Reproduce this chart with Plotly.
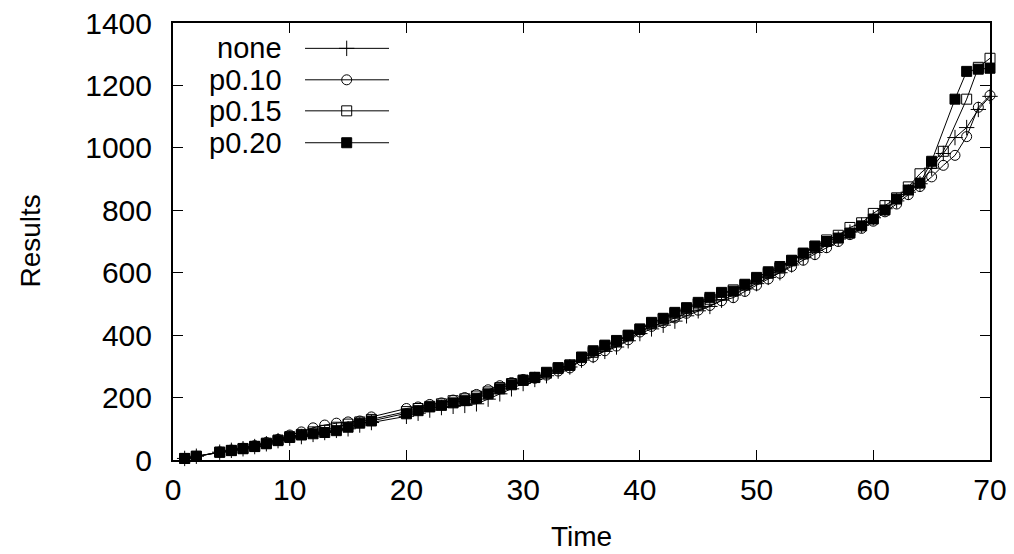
import plotly.graph_objects as go

# ---------------- data ----------------
t_main = [1, 2, 4, 5, 6, 7, 8, 9, 10, 11, 12, 13, 14, 15, 16, 17,
          20, 21, 22, 23, 24, 25, 26, 27, 28, 29, 30,
          31, 32, 33, 34, 35, 36, 37, 38, 39, 40,
          41, 42, 43, 44, 45, 46, 47, 48, 49, 50,
          51, 52, 53, 54, 55, 56, 57, 58, 59, 60,
          61, 62, 63, 64, 65]

none_main = [5, 12, 25, 31, 36, 43, 52, 62, 70, 75, 82, 88, 95, 100, 112, 120,
             140, 150, 160, 168, 172, 175, 180, 195, 212, 228, 245,
             258, 270, 285, 298, 320, 335, 348, 362, 382, 405,
             420, 432, 445, 462, 478, 492, 512, 528, 548, 565,
             585, 600, 625, 648, 665, 688, 708, 730, 752, 776,
             805, 830, 858, 885, 935]
none_tail_t = [66, 67, 68, 69, 70]
none_tail = [982, 1033, 1065, 1123, 1165]

p10_main = [5, 12, 26, 32, 38, 46, 56, 66, 80, 90, 103, 112, 118, 122, 125, 138,
            165, 170, 178, 183, 192, 200, 210, 225, 238, 248, 258,
            262, 272, 285, 295, 318, 330, 350, 365, 385, 410,
            428, 440, 455, 470, 480, 495, 510, 520, 540, 560,
            580, 598, 620, 640, 658, 680, 700, 722, 742, 765,
            795, 820, 850, 876, 907]
p10_tail_t = [66, 67, 68, 69, 70]
p10_tail = [944, 976, 1036, 1130, 1168]

p15_main = [5, 12, 25, 31, 37, 44, 54, 64, 75, 82, 90, 95, 105, 115, 122, 130,
            155, 165, 172, 180, 190, 196, 205, 218, 232, 245, 256,
            265, 278, 293, 305, 328, 345, 365, 380, 398, 418,
            438, 452, 470, 485, 500, 515, 530, 545, 560, 580,
            598, 615, 638, 660, 685, 705, 720, 745, 760, 790,
            815, 840, 875, 917, 950]
p15_tail_t = [66, 68, 69, 70]
p15_tail = [989, 1156, 1258, 1287]

p20_main = [5, 12, 25, 30, 36, 43, 52, 62, 72, 80, 84, 88, 94, 105, 118, 125,
            148, 158, 170, 175, 183, 190, 198, 212, 228, 241, 255,
            264, 281, 296, 303, 330, 350, 368, 383, 400, 420,
            441, 454, 473, 488, 505, 521, 537, 541, 563, 585,
            603, 620, 640, 663, 685, 700, 711, 727, 750, 772,
            801, 836, 865, 887, 957]
p20_tail_t = [67, 68, 69, 70]
p20_tail = [1156, 1245, 1252, 1255]

series_names = ["none", "p0.10", "p0.15", "p0.20"]
series_symbols = ["cross-thin-open", "circle-open", "square-open", "square"]

x_ticks = [0, 10, 20, 30, 40, 50, 60, 70]
y_ticks = [0, 200, 400, 600, 800, 1000, 1200, 1400]

# ---------------- figure ----------------
FONT = "Liberation Sans, Arial, Helvetica, sans-serif"
fig = go.Figure()

series = [
    (t_main + none_tail_t, none_main + none_tail),
    (t_main + p10_tail_t, p10_main + p10_tail),
    (t_main + p15_tail_t, p15_main + p15_tail),
    (t_main + p20_tail_t, p20_main + p20_tail),
]
sizes = [11, 10, 10, 10]
for (xs, ys), name, sym, sz in zip(series, series_names, series_symbols, sizes):
    fig.add_trace(go.Scatter(
        x=xs, y=ys, mode="lines+markers", name=name,
        line=dict(color="black", width=1),
        marker=dict(symbol=sym, size=sz, color="black",
                    line=dict(color="black", width=1)),
        showlegend=False, cliponaxis=False,
    ))

# custom gnuplot-style key (text on left, sample on right)
key_y = [0.942, 0.870, 0.799, 0.726]
for name, sym, sz, ky in zip(series_names, series_symbols, sizes, key_y):
    fig.add_trace(go.Scatter(
        x=[0.1616, 0.2644], y=[ky, ky], mode="lines", xaxis="x2", yaxis="y2",
        line=dict(color="black", width=1), showlegend=False, hoverinfo="skip"))
    fig.add_trace(go.Scatter(
        x=[0.2126], y=[ky], mode="markers", xaxis="x2", yaxis="y2",
        marker=dict(symbol=sym, size=sz, color="black",
                    line=dict(color="black", width=1)),
        showlegend=False, hoverinfo="skip"))
    fig.add_annotation(x=0.1359, y=ky, xref="paper", yref="paper",
                       text=name, showarrow=False, xanchor="right",
                       yanchor="middle", font=dict(size=29, color="black", family=FONT))

# axis titles
fig.add_annotation(x=0.5, y=0, xref="paper", yref="paper", text="Time",
                   showarrow=False, xanchor="center", yanchor="middle", yshift=-76,
                   font=dict(size=28, color="black", family=FONT))
fig.add_annotation(x=0, y=0.5, xref="paper", yref="paper", text="Results",
                   showarrow=False, xanchor="center", yanchor="middle", xshift=-143,
                   textangle=-90, font=dict(size=28, color="black", family=FONT))

axis_common = dict(
    showgrid=False, zeroline=False, showline=True, linecolor="black", linewidth=2,
    mirror="ticks", ticks="inside", ticklen=10, tickwidth=1, tickcolor="black",
    tickfont=dict(size=30, color="black", family=FONT),
)

fig.update_layout(
    width=1014, height=554,
    margin=dict(l=173, r=24, t=23, b=94, autoexpand=False),
    plot_bgcolor="white", paper_bgcolor="white",
    font=dict(family=FONT, color="black"),
    xaxis=dict(range=[0, 70], tickvals=x_ticks, ticktext=[str(v) for v in x_ticks],
               ticklabelstandoff=2, automargin=False, **axis_common),
    yaxis=dict(range=[0, 1400], tickvals=y_ticks, ticktext=[str(v) for v in y_ticks],
               ticklabelstandoff=13, automargin=False, **axis_common),
    xaxis2=dict(overlaying="x", range=[0, 1], visible=False, anchor="y2"),
    yaxis2=dict(overlaying="y", range=[0, 1], visible=False, anchor="x2"),
)

fig.write_html("out.html")
